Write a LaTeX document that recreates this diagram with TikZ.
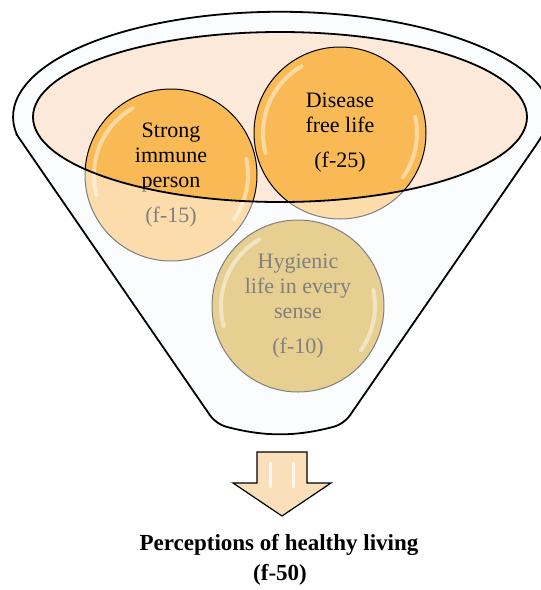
\documentclass[tikz,border=0pt]{standalone}
\usepackage{fontspec}
\setmainfont{Liberation Serif}
\usepackage{tikz}
\definecolor{pe}{RGB}{253, 233, 217}
\definecolor{fb}{RGB}{248, 249, 251}
\definecolor{or}{RGB}{249, 186, 85}
\definecolor{gd}{RGB}{205, 160, 35}
\definecolor{ar}{RGB}{251, 222, 186}
\usetikzlibrary{positioning}

\tikzset{
  bubble/.style={circle, minimum size=172pt, inner sep=0pt, draw=black, line width=1pt,
    align=center, font=\fontsize{22}{25}\selectfont,
    path picture={
      \draw [white, opacity=0.45, line width=4pt, line cap=round] (path picture bounding box.center) ++(120:77pt) arc[start angle=120, end angle=195, radius=77pt];
      \draw [white, opacity=0.45, line width=4pt, line cap=round] (path picture bounding box.center) ++(-35:77pt) arc[start angle=-35, end angle=12, radius=77pt];
    }},
  rim/.style={line width=1.8pt, color=black},
  shine/.style={white, opacity=0.8, line width=3pt, line cap=round},
}

\begin{document}
\begin{tikzpicture}
\useasboundingbox (0pt, 0pt) rectangle (541pt, -590pt);
% funnel body and liquid surface
\fill [fb] (17pt, -135pt) -- (216pt, -424pt) to[bend right=15] (344pt, -424pt) -- (543pt, -135pt)
  arc[start angle=-10, end angle=190, x radius=267pt, y radius=105pt] -- cycle;
\fill [pe] (280pt, -117pt) ellipse [x radius=247pt, y radius=85pt];
% the three perceptions
\node (strong) [bubble, fill=or] at (171pt, -175pt) {Strong\\immune\\person\\[10pt](f-15)};
\node (disease) [bubble, fill=or] at (340pt, -133pt) {Disease\\free life\\[10pt](f-25)};
\node (hygienic) [bubble, fill=gd] at (298pt, -306pt) {Hygienic\\life in every\\sense\\[10pt](f-10)};
% glass of the funnel over them
\draw [rim, fill=white, fill opacity=0.5, even odd rule, rounded corners=10pt]
  (17pt, -135pt) -- (216pt, -424pt) to[bend right=15] (344pt, -424pt) -- (543pt, -135pt)
  [sharp corners] arc[start angle=-10, end angle=190, x radius=267pt, y radius=105pt] -- cycle
  (280pt, -117pt) ellipse [x radius=247pt, y radius=85pt];
% arrow
\draw [line width=1.2pt, color=black, fill=ar] (257pt, -452pt) -- (307pt, -452pt) -- (307pt, -483pt) -- (331pt, -483pt)
  -- (282pt, -516pt) -- (233pt, -483pt) -- (257pt, -483pt) -- cycle;
\draw [shine] (270pt, -463pt) -- (270pt, -487pt);
\draw [shine] (293pt, -463pt) -- (293pt, -487pt);
% result
\node (percept) [font=\bfseries\fontsize{23}{27}\selectfont, anchor=base] at (279pt, -550pt) {Perceptions of healthy living};
\node (total) [font=\bfseries\fontsize{23}{27}\selectfont, anchor=base] at (280pt, -580pt) {(f-50)};
\end{tikzpicture}
\end{document}
